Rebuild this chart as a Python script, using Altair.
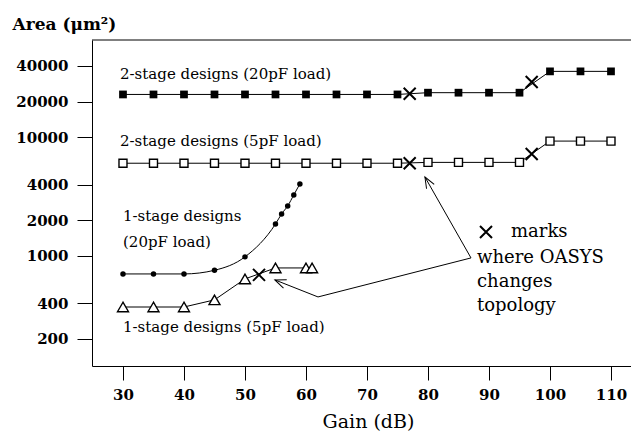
import altair as alt
import pandas as pd

FONT = "DejaVu Serif"

# ---- data ----
gain_2s20 = [30, 35, 40, 45, 50, 55, 60, 65, 70, 75, 80, 85, 90, 95, 100, 105, 110]
area_2s20 = [23000, 23000, 23000, 23000, 23000, 23000, 23000, 23000, 23000, 23000,
             23800, 23800, 23800, 23800, 36000, 36000, 36000]

gain_2s5 = [30, 35, 40, 45, 50, 55, 60, 65, 70, 75, 80, 85, 90, 95, 100, 105, 110]
area_2s5 = [6050, 6050, 6050, 6050, 6050, 6050, 6050, 6050, 6050, 6050,
            6150, 6150, 6150, 6150, 9300, 9300, 9300]

gain_1s20 = [30, 35, 40, 45, 50, 55, 56, 57, 58, 59]
area_1s20 = [705, 705, 705, 757, 982, 1860, 2260, 2640, 3270, 4050]

gain_1s5 = [30, 35, 40, 45, 50, 55, 60, 61]
area_1s5 = [371, 371, 371, 426, 640, 792, 792, 792]

topo_gain = [77, 97, 77, 97, 52.3]
topo_area = [23300, 29300, 6050, 7240, 692]

arrow1_gain = [87.05, 79.5]
arrow1_area = [962, 4630]
arrow2_gain = [87.05, 61.97, 54.9]
arrow2_area = [962, 451, 628]
tips_gain = [79.5, 54.9]
tips_area = [4630, 628]
tips_angle = [240.4, 201.6]

x_ticks = [30, 40, 50, 60, 70, 80, 90, 100, 110]
y_ticks = [200, 400, 1000, 2000, 4000, 10000, 20000, 40000]

W, H = 539, 326

xscale = alt.Scale(domain=[24.92, 113.28], nice=False, zero=False)
yscale = alt.Scale(type="log", domain=[118, 66200], nice=False)

xaxis = alt.Axis(values=x_ticks, format="d", grid=False, tickSize=14, tickColor="black",
                 domainColor="black", labelColor="black", labelFont=FONT, labelFontSize=15,
                 labelFontWeight="bold", labelPadding=7, title="Gain (dB)", titleFont=FONT,
                 titleFontSize=19, titleFontWeight="normal", titleColor="black",
                 titleX=276, titleY=61, titleAlign="center", titleBaseline="alphabetic")
yaxis = alt.Axis(values=y_ticks, format="d", grid=False, tickSize=15, tickColor="black",
                 domainColor="black", labelColor="black", labelFont=FONT, labelFontSize=15,
                 labelFontWeight="bold", labelPadding=9, title="Area (μm²)", titleFont=FONT,
                 titleFontSize=17, titleFontWeight="bold", titleColor="black", titleAngle=0,
                 titleX=-80, titleY=-11, titleAlign="left", titleBaseline="alphabetic")

X = alt.X("gain:Q", scale=xscale, axis=xaxis)
Y = alt.Y("area:Q", scale=yscale, axis=yaxis)


def df(g, a):
    return pd.DataFrame({"gain": g, "area": a})


def line(g, a, interp="linear"):
    return alt.Chart(df(g, a)).mark_line(color="black", strokeWidth=1, interpolate=interp).encode(x=X, y=Y)


lines = [
    line(gain_2s20, area_2s20),
    line(gain_2s5, area_2s5),
    line(gain_1s20, area_1s20, "monotone"),
    line(gain_1s5, area_1s5),
]

pts_2s20 = alt.Chart(df(gain_2s20, area_2s20)).mark_point(
    shape="square", filled=True, color="black", size=60, opacity=1).encode(x=X, y=Y)
pts_2s5 = alt.Chart(df(gain_2s5, area_2s5)).mark_point(
    shape="square", filled=True, fill="white", stroke="black", strokeWidth=1.4, size=64, opacity=1).encode(x=X, y=Y)
pts_1s20 = alt.Chart(df(gain_1s20, area_1s20)).mark_point(
    shape="circle", filled=True, color="black", size=30, opacity=1).encode(x=X, y=Y)
pts_1s5 = alt.Chart(df(gain_1s5, area_1s5)).mark_point(
    shape="triangle-up", filled=True, fill="white", stroke="black", strokeWidth=1.4, size=121, opacity=1).encode(x=X, y=Y)

XSHAPE = "M-1,-1L1,1M-1,1L1,-1"
topo = alt.Chart(df(topo_gain, topo_area)).mark_point(
    shape=XSHAPE, filled=False, stroke="black", strokeWidth=2, size=144, opacity=1).encode(x=X, y=Y)

arrow1 = alt.Chart(df(arrow1_gain, arrow1_area).assign(o=range(len(arrow1_gain)))).mark_line(
    color="black", strokeWidth=1).encode(x=X, y=Y, order="o:Q")
arrow2 = alt.Chart(df(arrow2_gain, arrow2_area).assign(o=range(len(arrow2_gain)))).mark_line(
    color="black", strokeWidth=1).encode(x=X, y=Y, order="o:Q")
heads = alt.Chart(df(tips_gain, tips_area).assign(ang=tips_angle)).mark_point(
    shape="M-1,-0.4L0,0L-1,0.4", filled=False, stroke="black", strokeWidth=1, size=484, opacity=1
).encode(x=X, y=Y, angle=alt.Angle("ang:Q", scale=None))

top_border = alt.Chart().mark_rule(color="black", strokeWidth=1).encode(
    x=alt.value(0), x2=alt.value(W), y=alt.value(0))


def label(text, px, py, size=15, align="left"):
    return alt.Chart().mark_text(text=text, font=FONT, fontSize=size, color="black",
                                 align=align, baseline="alphabetic").encode(
        x=alt.value(px), y=alt.value(py))


texts = [
    label("2-stage designs (20pF load)", 28, 39),
    label("2-stage designs (5pF load)", 28, 106),
    label("1-stage designs", 31, 181),
    label("(20pF load)", 31, 207),
    label("1-stage designs (5pF load)", 31, 292),
    label("marks", 419, 197, 18),
    label("where OASYS", 385, 223, 18),
    label("changes", 385, 247, 18),
    label("topology", 385, 271, 18),
]

legend_x = alt.Chart().mark_point(shape=XSHAPE, filled=False, stroke="black", strokeWidth=2,
                                  size=144, opacity=1).encode(x=alt.value(394), y=alt.value(192))

chart = alt.layer(
    *lines, arrow1, arrow2, heads, pts_2s20, pts_2s5, pts_1s20, pts_1s5, topo,
    top_border, legend_x, *texts
).properties(
    width=W, height=H,
    autosize=alt.AutoSizeParams(type="none"),
    padding={"left": 84, "top": 32, "right": 0, "bottom": 69},
    background="white",
).configure_view(stroke=None)

chart.save("out.html", embed_options={"renderer": "svg", "actions": False})
